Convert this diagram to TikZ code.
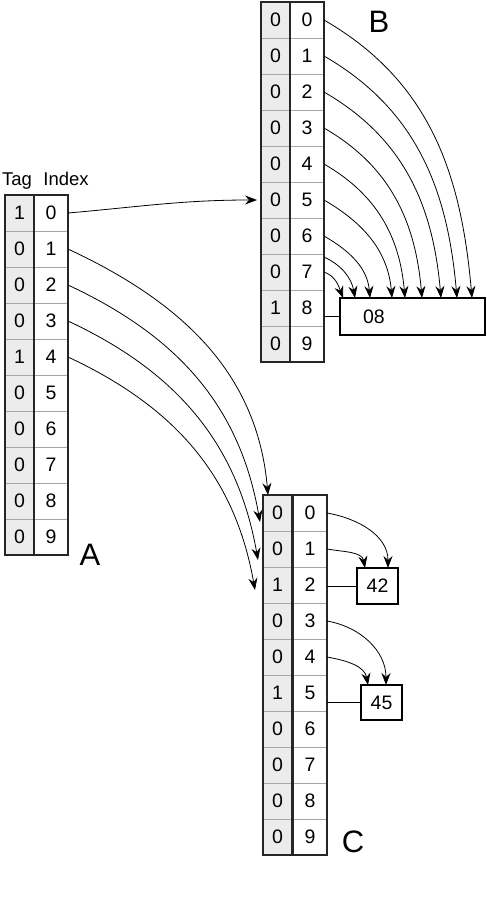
\documentclass[tikz,border=0pt]{standalone}
\usepackage{fontspec}
\setmainfont{Liberation Sans}
\usetikzlibrary{arrows.meta}
\tikzset{
  cell/.style={rectangle, draw=gray!70, line width=0.6pt, inner sep=0pt, outer sep=0pt,
    minimum height=36pt, font=\fontsize{19.5}{21}\selectfont},
  tagcell/.style={cell, fill=gray!15, minimum width=29pt},
  idxcell/.style={cell, fill=white, minimum width=34pt},
  column/.style={draw=black!85, line width=1.6pt},
  valbox/.style={rectangle, draw=black, line width=1.2pt, inner sep=0pt, outer sep=0pt,
    font=\fontsize{19.5}{21}\selectfont},
  letter/.style={font=\fontsize{31}{33}\selectfont},
  head/.style={anchor=base, font=\fontsize{18.5}{20}\selectfont}
}
\begin{document}
\begin{tikzpicture}[x=1pt,y=-1pt]
  \useasboundingbox (0,0) rectangle (487,902);
  % table A
  \foreach \t [count=\i from 0] in {1,0,0,0,1,0,0,0,0,0} {
    \node[tagcell] (At\i) at (19.5,213+36*\i) {\t};
    \node[idxcell] (Ai\i) at (51,213+36*\i) {\i};
  }
  % table B
  \foreach \t [count=\i from 0] in {0,0,0,0,0,0,0,0,1,0} {
    \node[tagcell] (Bt\i) at (275.5,20+36*\i) {\t};
    \node[idxcell] (Bi\i) at (307,20+36*\i) {\i};
  }
  % table C
  \foreach \t [count=\i from 0] in {0,0,1,0,0,1,0,0,0,0} {
    \node[tagcell] (Ct\i) at (277.5,513+36*\i) {\t};
    \node[idxcell] (Ci\i) at (310,513+36*\i) {\i};
  }
  \draw[column] (At0.north west) rectangle (At9.south east);
  \draw[column] (Ai0.north west) rectangle (Ai9.south east);
  \draw[column] (Bt0.north west) rectangle (Bt9.south east);
  \draw[column] (Bi0.north west) rectangle (Bi9.south east);
  \draw[column] (Ct0.north west) rectangle (Ct9.south east);
  \draw[column] (Ci0.north west) rectangle (Ci9.south east);

  \node[head] (tag) at (17,185) {Tag};
  \node[head] (index) at (66,185) {Index};
  \node[letter] (labA) at (90,555) {A};
  \node[letter] (labB) at (379,22) {B};
  \node[letter] (labC) at (353,842) {C};

  \node[valbox, minimum width=145pt, minimum height=37pt, text width=99pt,
    inner xsep=23pt, align=left] (box08) at (412.5,316.5) {08};
  \node[valbox, minimum width=41pt, minimum height=36pt] (box42) at (377.5,586) {42};
  \node[valbox, minimum width=41pt, minimum height=35pt] (box45) at (381.5,702.5) {45};

  \draw[line width=0.8pt] (box08.west -| Bi8.east) -- (box08.west);
  \draw[line width=0.8pt] (box42.west -| Ci2.east) -- (box42.west);
  \draw[line width=0.8pt] (box45.west -| Ci5.east) -- (box45.west);

  \begin{scope}[every edge/.style={draw=black, line width=0.8pt,
      -{Stealth[length=12pt,width=9pt,inset=4pt]}}]
    \path (Ai0.east) edge[out=5,in=180] ([xshift=-4pt]Bt5.west);
    \path (Ai1.east) edge[out=-25,in=95] ([xshift=5pt]Ct0.north west);
    \path (Ai2.east) edge[out=-25,in=100] ([xshift=-3pt,yshift=-9pt]Ct0.west);
    \path (Ai3.east) edge[out=-25,in=100] ([xshift=-5pt,yshift=-11pt]Ct1.west);
    \path (Ai4.east) edge[out=-25,in=100] ([xshift=-8pt,yshift=-5pt]Ct2.west);

    \path (Bi0.east) edge[out=-30,in=95] ([xshift=132pt]box08.north west);
    \path (Bi1.east) edge[out=-30,in=95] ([xshift=117pt]box08.north west);
    \path (Bi2.east) edge[out=-30,in=95] ([xshift=101pt]box08.north west);
    \path (Bi3.east) edge[out=-30,in=95] ([xshift=82pt]box08.north west);
    \path (Bi4.east) edge[out=-30,in=95] ([xshift=65pt]box08.north west);
    \path (Bi5.east) edge[out=-30,in=95] ([xshift=52pt]box08.north west);
    \path (Bi6.east) edge[out=-30,in=95] ([xshift=30pt]box08.north west);
    \path ([yshift=-3pt]Bi7.north east) edge[out=-25,in=100] ([xshift=15pt]box08.north west);
    \path (Bi7.east) edge[out=-20,in=110] ([xshift=3pt]box08.north west);

    \path (Ci0.east) edge[out=-10,in=90] ([xshift=31pt]box42.north west);
    \path (Ci1.east) edge[out=-10,in=100] ([xshift=8pt]box42.north west);
    \path (Ci3.east) edge[out=-10,in=90] ([xshift=25pt]box45.north west);
    \path (Ci4.east) edge[out=-10,in=100] ([xshift=7pt]box45.north west);
  \end{scope}
\end{tikzpicture}
\end{document}
